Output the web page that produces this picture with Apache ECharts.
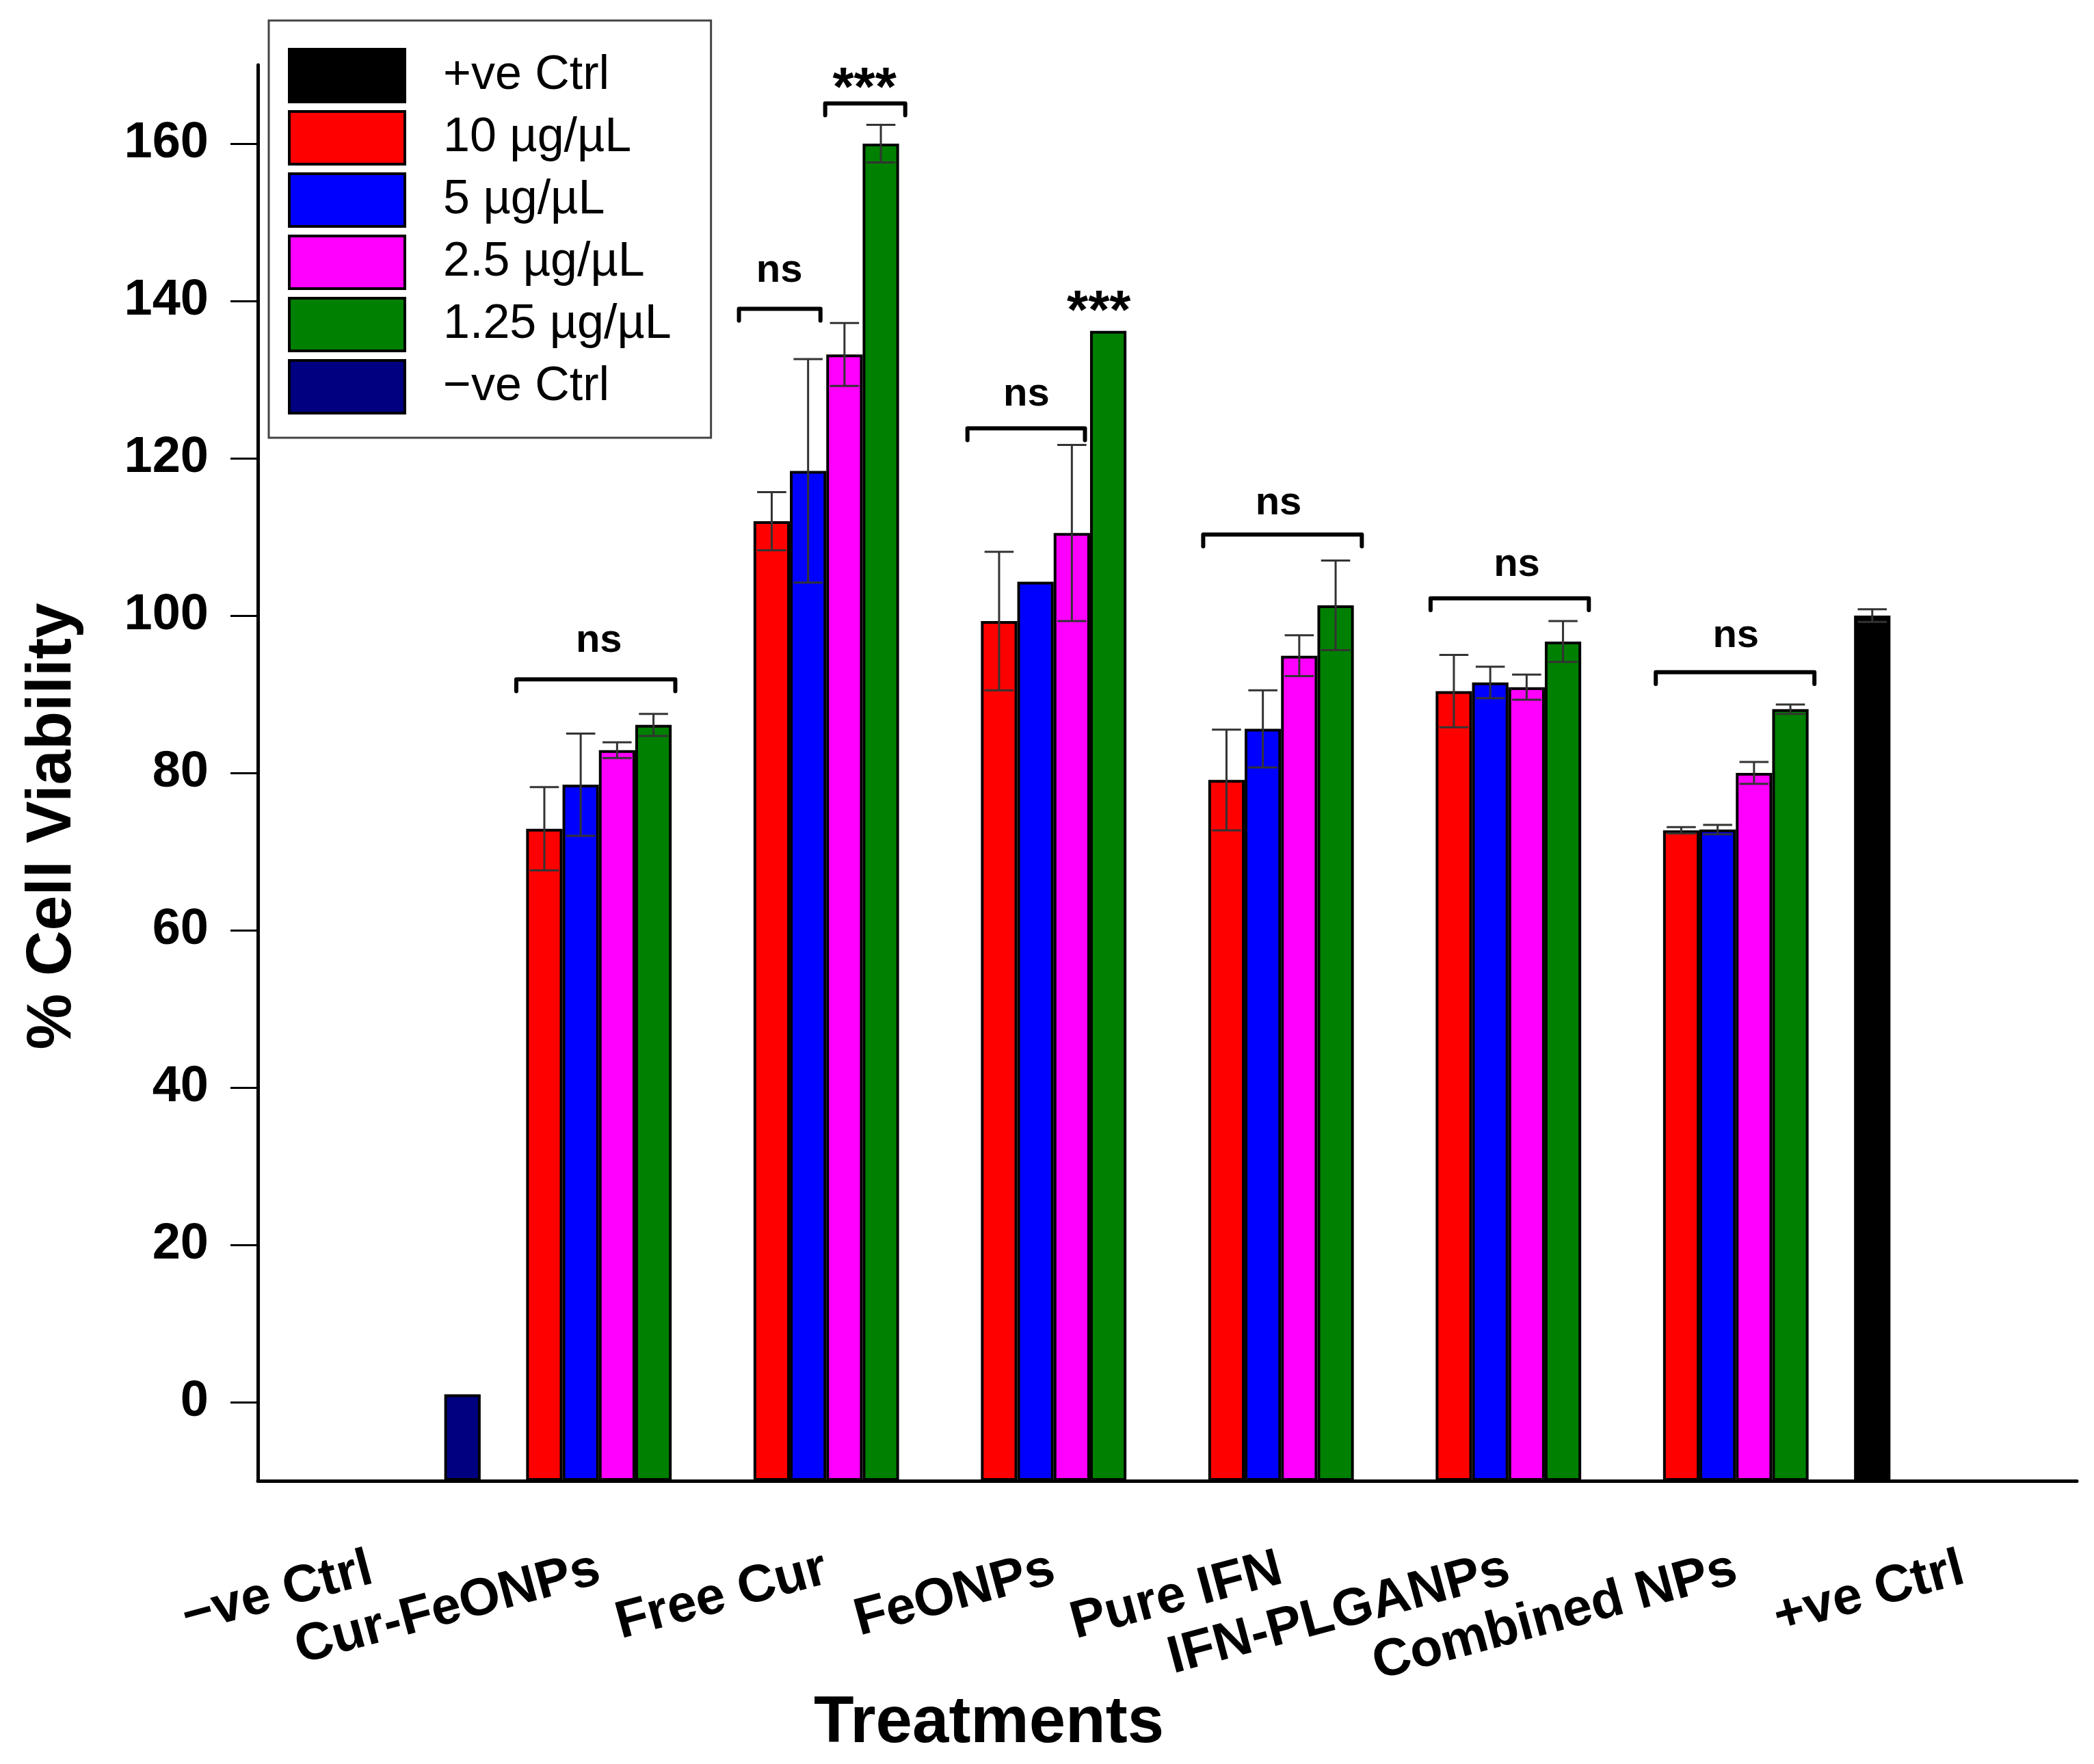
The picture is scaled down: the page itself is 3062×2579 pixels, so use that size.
<!DOCTYPE html>
<html>
<head>
<meta charset="utf-8">
<script src="https://cdn.jsdelivr.net/npm/echarts@6/dist/echarts.min.js"></script>
<style>
  html, body { margin: 0; padding: 0; background: #fff; }
  #chart { width: 3062px; height: 2579px; }
</style>
</head>
<body>
<div id="chart"></div>
<script>
// x categories
const categories = ['\u2212ve Ctrl', 'Cur-FeONPs', 'Free Cur', 'FeONPs', 'Pure IFN', 'IFN-PLGANPs', 'Combined NPs', '+ve Ctrl'];
const seriesNames = ['+ve Ctrl', '10 \u00b5g/\u00b5L', '5 \u00b5g/\u00b5L', '2.5 \u00b5g/\u00b5L', '1.25 \u00b5g/\u00b5L', '\u2212ve Ctrl'];
const seriesColors = ['#000000', '#ff0000', '#0000ff', '#ff00ff', '#008000', '#000080'];

// mean % cell viability per series (one value per category)
const posCtrl = [null, null, null, null, null, null, null, 100.0];
const dose10  = [null, 72.9, 112.0, 99.3, 79.1, 90.4, 72.7, null];
const dose5   = [null, 78.5, 118.4, 104.3, 85.6, 91.5, 72.8, null];
const dose2_5 = [null, 82.9, 133.2, 110.5, 94.9, 90.9, 80.0, null];
const dose1_25 = [null, 86.1, 160.0, 136.2, 101.3, 96.7, 88.1, null];
const negCtrl = [1.0, null, null, null, null, null, null, null];

// error (+/-)
const posCtrlErr = [0, 0, 0, 0, 0, 0, 0, 0.8];
const dose10Err  = [0, 5.3, 3.7, 8.8, 6.4, 4.6, 0.4, 0];
const dose5Err   = [0, 6.5, 14.2, 0, 4.9, 2.0, 0.6, 0];
const dose2_5Err = [0, 1.0, 4.0, 11.2, 2.6, 1.6, 1.4, 0];
const dose1_25Err = [0, 1.4, 2.4, 0, 5.7, 2.6, 0.6, 0];
const negCtrlErr = [0, 0, 0, 0, 0, 0, 0, 0];

const yTicks = [0, 20, 40, 60, 80, 100, 120, 140, 160];

// significance marks: category, bracket ends (in bar widths from centre), heights
const sigCats  = [1, 2, 2, 3, 3, 4, 5, 6];
const sigText  = ['ns', 'ns', '***', 'ns', '***', 'ns', 'ns', 'ns'];
const sigFrom  = [-2.27, -2.4, -0.03, -2.37, null, -2.14, -2.14, -2.2];
const sigTo    = [2.1, -0.16, 2.17, 0.86, null, 2.22, 2.21, 2.16];
const sigY     = [91.9, 139.0, 165.1, 123.8, null, 110.3, 102.2, 92.8];
const sigTextX = [0, -1.29, 1.05, -0.75, 1.24, -0.07, 0.23, 0];
const sigTextY = [96.8, 143.8, 168.3, 128.1, 140.0, 114.3, 106.4, 97.4];

const allValues = [posCtrl, dose10, dose5, dose2_5, dose1_25, negCtrl];
const allErrors = [posCtrlErr, dose10Err, dose5Err, dose2_5Err, dose1_25Err, negCtrlErr];

// axis starts at -10: bars are drawn from the bottom of the axis
const BASE = -10;
const TOP = 170;
const BAR_FRAC = 0.16;
const FONT = "'Liberation Sans', Arial, Helvetica, sans-serif";

const chart = echarts.init(document.getElementById('chart'));

const barSeries = seriesNames.map((name, i) => ({
  name: name,
  type: 'bar',
  barWidth: (BAR_FRAC * 100) + '%',
  barGap: '0%',
  data: allValues[i].map(v => (v == null ? null : v - BASE)),
  itemStyle: { color: seriesColors[i], borderColor: '#000', borderWidth: 4 },
  z: 2
}));

const errData = [];
allValues.forEach((vals, i) => {
  vals.forEach((v, j) => {
    if (v != null && allErrors[i][j] > 0) errData.push([j, v - BASE, i, allErrors[i][j]]);
  });
});

function renderError(params, api) {
  const cat = api.value(0);
  const v = api.value(1);
  const idx = api.value(2);
  const e = api.value(3);
  const bw = api.size([1, 0])[0] * BAR_FRAC;
  const x = api.coord([cat, 0])[0] + (idx - 2.5) * bw;
  const yTop = api.coord([cat, v + e])[1];
  const yBot = api.coord([cat, v - e])[1];
  const cap = bw * 0.4;
  const st = { stroke: '#333', lineWidth: 3 };
  return {
    type: 'group',
    children: [
      { type: 'line', shape: { x1: x, y1: yTop, x2: x, y2: yBot }, style: st },
      { type: 'line', shape: { x1: x - cap, y1: yTop, x2: x + cap, y2: yTop }, style: st },
      { type: 'line', shape: { x1: x - cap, y1: yBot, x2: x + cap, y2: yBot }, style: st }
    ]
  };
}

function renderSig(params, api) {
  const i = params.dataIndex;
  const cat = sigCats[i];
  const bw = api.size([1, 0])[0] * BAR_FRAC;
  const cx = api.coord([cat, 0])[0];
  const children = [];
  if (sigFrom[i] != null) {
    const y = api.coord([cat, sigY[i] - BASE])[1];
    const drop = api.coord([cat, sigY[i] - 1.5 - BASE])[1];
    const x0 = cx + sigFrom[i] * bw;
    const x1 = cx + sigTo[i] * bw;
    children.push({
      type: 'polyline',
      shape: { points: [[x0, drop], [x0, y], [x1, y], [x1, drop]] },
      style: { stroke: '#000', lineWidth: 6, fill: null, lineJoin: 'round', lineCap: 'round' }
    });
  }
  const stars = sigText[i] === '***';
  const fs = stars ? 80 : 58;
  const ty = api.coord([cat, sigTextY[i] - BASE])[1] + (stars ? fs * 0.22 : 0);
  children.push({
    type: 'text',
    x: cx + sigTextX[i] * bw,
    y: ty,
    style: {
      text: sigText[i],
      fill: '#000',
      font: 'bold ' + fs + 'px ' + FONT,
      align: 'center',
      verticalAlign: 'middle'
    }
  });
  return { type: 'group', children: children };
}

const option = {
  animation: false,
  backgroundColor: '#fff',
  grid: { left: 377, right: 25, top: 95, bottom: 414 },
  legend: {
    data: seriesNames,
    icon: 'rect',
    orient: 'vertical',
    left: 393,
    top: 30,
    itemWidth: 169,
    itemHeight: 77,
    itemGap: 10,
    padding: [40, 58, 34, 28],
    borderColor: '#444',
    borderWidth: 3,
    backgroundColor: '#fff',
    selectedMode: false,
    itemStyle: { borderColor: '#000', borderWidth: 4 },
    textStyle: {
      fontSize: 70,
      lineHeight: 46,
      fontFamily: FONT,
      color: '#000',
      padding: [28, 0, 0, 51]
    }
  },
  xAxis: {
    type: 'category',
    data: categories,
    boundaryGap: true,
    axisLine: { lineStyle: { color: '#000', width: 5 } },
    axisTick: { alignWithLabel: true, length: 43, lineStyle: { color: '#000', width: 3 } },
    axisLabel: {
      interval: 0,
      rotate: 15,
      margin: 128,
      fontSize: 77,
      fontWeight: 'bold',
      fontFamily: FONT,
      color: '#000'
    },
    splitLine: { show: false }
  },
  yAxis: {
    type: 'value',
    min: 0,
    max: TOP - BASE,
    axisLine: { show: true, lineStyle: { color: '#000', width: 5 } },
    axisTick: {
      show: true,
      length: 40,
      customValues: yTicks.map(t => t - BASE),
      lineStyle: { color: '#000', width: 3 }
    },
    axisLabel: {
      customValues: yTicks.map(t => t - BASE),
      formatter: v => String(Math.round(v + BASE)),
      margin: 72,
      fontSize: 74,
      fontWeight: 'bold',
      fontFamily: FONT,
      color: '#000'
    },
    splitLine: { show: false }
  },
  graphic: [
    {
      type: 'text',
      x: 78,
      y: 1208,
      rotation: Math.PI / 2,
      style: {
        text: '% Cell Viability',
        font: 'bold 92px ' + FONT,
        fill: '#000',
        align: 'center',
        verticalAlign: 'middle'
      }
    },
    {
      type: 'text',
      x: 1446,
      y: 2521,
      style: {
        text: 'Treatments',
        font: 'bold 96px ' + FONT,
        fill: '#000',
        align: 'center',
        verticalAlign: 'middle'
      }
    }
  ],
  series: barSeries.concat([
    {
      type: 'custom',
      renderItem: renderError,
      data: errData,
      encode: { x: 0, y: 1 },
      z: 5,
      silent: true
    },
    {
      type: 'custom',
      renderItem: renderSig,
      data: sigCats.map((c, i) => [c, sigTextY[i] - BASE]),
      encode: { x: 0, y: 1 },
      z: 6,
      silent: true
    }
  ])
};

chart.setOption(option);
</script>
</body>
</html>
